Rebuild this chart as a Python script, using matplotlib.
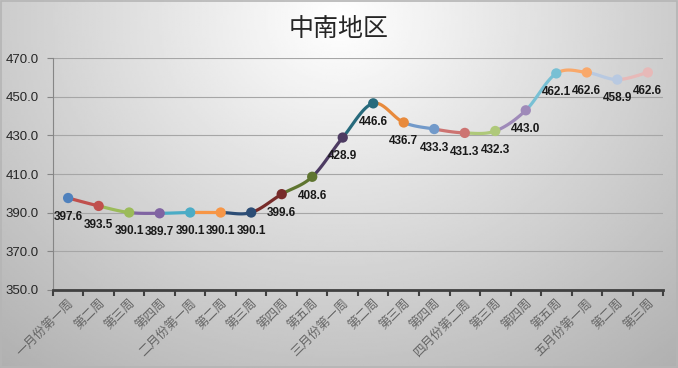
import matplotlib.pyplot as plt
import numpy as np

plt.rcParams['font.family'] = ['Noto Sans CJK SC', 'DejaVu Sans']

# data
weeks = ['一月份第一周', '第二周', '第三周', '第四周',
         '二月份第一周', '第二周', '第三周', '第四周', '第五周',
         '三月份第一周', '第二周', '第三周', '第四周',
         '四月份第二周', '第三周', '第四周', '第五周',
         '五月份第一周', '第二周', '第三周']
values = [397.6, 393.5, 390.1, 389.7, 390.1, 390.1, 390.1, 399.6, 408.6, 428.9,
          446.6, 436.7, 433.3, 431.3, 432.3, 443.0, 462.1, 462.6, 458.9, 462.6]
point_colors = ['#4F81BD', '#C0504D', '#9BBB59', '#8064A2', '#4BACC6', '#F79646',
                '#2C4D75', '#772C2A', '#5F7530', '#4D3B62', '#276A7C', '#E88A3C',
                '#729ACA', '#CD7371', '#AFC97A', '#9F8AB9', '#78C0D4', '#F9A86A',
                '#B8C9E1', '#E7B9B8']


def smooth_segment(xs, ys, i, n=40):
    """Catmull-Rom style bezier between point i and i+1 (like Excel smoothing)."""
    last = len(xs) - 1
    p0 = np.array([xs[max(i - 1, 0)], ys[max(i - 1, 0)]])
    p1 = np.array([xs[i], ys[i]])
    p2 = np.array([xs[i + 1], ys[i + 1]])
    p3 = np.array([xs[min(i + 2, last)], ys[min(i + 2, last)]])
    c1 = p1 + (p2 - p0) / 6
    c2 = p2 - (p3 - p1) / 6
    t = np.linspace(0, 1, n)[:, None]
    pts = ((1 - t) ** 3) * p1 + 3 * ((1 - t) ** 2) * t * c1 + 3 * (1 - t) * t ** 2 * c2 + t ** 3 * p2
    return pts[:, 0], pts[:, 1]


fig = plt.figure(figsize=(6.78, 3.68), dpi=100)

# background gradient (light at top centre, grey towards the edges)
bg = fig.add_axes([0, 0, 1, 1])
gx, gy = np.meshgrid(np.linspace(0, 1, 300), np.linspace(1, 0, 200))
r = np.sqrt(((gx - 0.5) / 0.75) ** 2 + ((gy - 0.95) / 1.2) ** 2)
grad = np.clip(1.0 - 0.30 * r, 0, 1)
bg.imshow(grad, extent=[0, 1, 0, 1], aspect='auto', cmap='gray', vmin=0, vmax=1)
bg.add_patch(plt.Rectangle((0.001, 0.002), 0.997, 0.995, fill=False,
                           edgecolor='#B5B5B5', lw=1.2))
bg.set_xlim(0, 1)
bg.set_ylim(0, 1)
bg.axis('off')

ax = fig.add_axes([0.078, 0.212, 0.9, 0.63])
ax.patch.set_alpha(0)

x = np.arange(len(values))
for i in range(len(values) - 1):
    sx, sy = smooth_segment(x, values, i)
    ax.plot(sx, sy, color=point_colors[i + 1], lw=2.3, solid_capstyle='round', zorder=2)
ax.scatter(x, values, s=55, c=point_colors, zorder=3, linewidths=0)

for xi, v in zip(x, values):
    ax.annotate(f'{v:.1f}', (xi, v), xytext=(0, -13.5), textcoords='offset points',
                ha='center', va='center', fontsize=8.5, fontweight='bold',
                family='Liberation Sans', color='#1A1A1A', zorder=4)

ax.set_ylim(350, 470)
ax.set_yticks(np.arange(350, 471, 20))
ax.set_yticklabels([f'{t:.1f}' for t in np.arange(350, 471, 20)],
                   family='Liberation Sans', fontsize=9.5, color='#262626')
ax.grid(axis='y', color='#A6A6A6', lw=0.8)
ax.set_axisbelow(True)

ax.set_xlim(-0.5, len(values) - 0.5)
ax.set_xticks(np.arange(len(values) + 1) - 0.5)
ax.set_xticklabels([])
ax.set_xticks(x, minor=True)
ax.set_xticklabels(weeks, minor=True, rotation=45, ha='right', va='top',
                   rotation_mode='anchor', fontsize=9, color='#666666')
ax.tick_params(axis='x', which='minor', length=0, pad=5)
ax.tick_params(axis='x', which='major', length=4, width=1.5, color='#404040')
ax.tick_params(axis='y', length=4, color='#868686', pad=6)

for s in ['top', 'right']:
    ax.spines[s].set_visible(False)
ax.spines['left'].set_color('#868686')
ax.spines['bottom'].set_color('#404040')
ax.spines['bottom'].set_linewidth(2)

fig.text(0.5, 0.922, '中南地区', ha='center', va='center', fontsize=18, color='#262626')

fig.savefig('out.png', dpi=100)
